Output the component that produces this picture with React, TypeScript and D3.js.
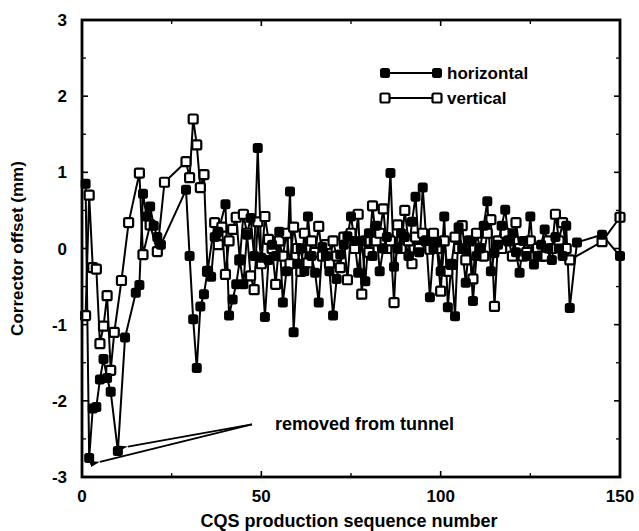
import * as d3 from 'd3'

// corrector offsets
const seqH = [1, 2, 3, 4, 5, 6, 7, 8, 10, 12, 15, 16, 17, 18, 19, 20, 21, 22, 29, 30, 31, 32, 33, 34, 35, 36, 37, 38, 40, 41, 42, 43, 44, 45, 46, 47, 48, 49, 50, 51, 52, 53, 54, 55, 56, 57, 58, 59, 60, 61, 62, 63, 64, 65, 66, 67, 68, 69, 70, 71, 72, 73, 74, 75, 76, 77, 78, 79, 80, 81, 82, 83, 84, 85, 86, 87, 88, 89, 90, 91, 92, 93, 94, 95, 96, 97, 98, 99, 100, 101, 102, 103, 104, 105, 106, 107, 108, 109, 110, 111, 112, 113, 114, 115, 116, 117, 118, 119, 120, 121, 122, 123, 124, 125, 126, 127, 128, 129, 130, 131, 132, 133, 134, 135, 136, 138, 145, 150]
const offsetH = [0.85, -2.75, -2.1, -2.08, -1.72, -1.45, -1.7, -1.88, -2.66, -1.17, -0.58, -0.48, 0.72, 0.42, 0.55, 0.3, 0.15, 0.05, 0.77, -0.1, -0.93, -1.57, -0.76, -0.6, -0.3, -0.37, 0.15, 0.22, 0.58, -0.88, -0.67, -0.47, -0.15, -0.47, 0.18, 0.4, -0.1, 1.32, -0.12, -0.9, -0.15, 0.05, -0.1, 0.22, -0.71, -0.3, 0.75, -1.1, -0.2, 0.0, -0.3, 0.42, -0.1, -0.32, -0.71, 0.02, -0.1, -0.3, -0.88, -0.4, -0.08, 0.05, 0.16, 0.42, 0.1, -0.32, 0.1, -0.43, 0.2, -0.1, 0.3, -0.3, 0.0, 0.15, 0.99, -0.24, 0.0, 0.2, 0.15, -0.1, 0.35, 0.68, -0.05, 0.8, 0.1, -0.64, 0.0, 0.08, -0.3, 0.42, -0.77, -0.2, -0.89, 0.28, 0.0, -0.45, 0.1, -0.69, -0.1, 0.0, 0.3, 0.62, -0.3, -0.06, 0.05, 0.3, 0.51, 0.1, 0.2, -0.05, -0.32, 0.1, -0.1, 0.42, -0.21, -0.1, 0.05, 0.25, 0.0, -0.15, 0.15, 0.0, -0.1, 0.3, -0.78, 0.08, 0.18, -0.1]

const seqV = [1, 2, 3, 4, 5, 6, 7, 8, 9, 11, 13, 16, 17, 19, 21, 23, 29, 30, 31, 32, 33, 34, 35, 37, 38, 39, 40, 41, 42, 43, 44, 45, 46, 47, 48, 49, 50, 51, 52, 53, 54, 55, 56, 57, 58, 59, 60, 61, 62, 63, 64, 65, 66, 67, 68, 69, 70, 71, 72, 73, 74, 75, 76, 77, 78, 79, 80, 81, 82, 83, 84, 85, 86, 87, 88, 89, 90, 91, 92, 93, 94, 95, 96, 97, 98, 99, 100, 101, 102, 103, 104, 105, 106, 107, 108, 109, 110, 111, 112, 113, 114, 115, 116, 117, 118, 119, 120, 121, 122, 123, 124, 125, 126, 127, 128, 129, 130, 131, 132, 133, 134, 135, 136, 145, 150]
const offsetV = [-0.88, 0.7, -0.25, -0.27, -1.25, -1.02, -0.62, -1.6, -1.1, -0.42, 0.34, 0.99, -0.08, 0.31, -0.04, 0.87, 1.14, 0.93, 1.7, 1.36, 0.8, 0.97, -0.3, 0.34, 0.05, 0.28, -0.34, 0.1, 0.25, 0.41, -0.15, 0.45, 0.2, -0.36, -0.54, 0.35, -0.2, 0.42, 0.12, 0.0, -0.47, 0.1, -0.1, 0.2, -0.2, 0.28, 0.0, -0.3, 0.2, -0.19, 0.1, -0.05, 0.29, -0.1, 0.05, -0.2, 0.1, -0.1, -0.25, 0.15, -0.41, 0.2, 0.0, 0.45, -0.6, 0.1, -0.05, 0.56, 0.1, 0.2, 0.52, 0.0, 0.1, -0.71, 0.31, 0.0, 0.5, 0.1, -0.2, 0.15, 0.0, 0.2, 0.1, -0.01, 0.2, 0.0, -0.56, 0.1, -0.3, -0.21, 0.15, 0.0, 0.3, -0.15, 0.1, -0.4, 0.2, 0.0, -0.1, 0.2, 0.38, -0.76, 0.1, 0.0, 0.2, 0.1, -0.1, 0.34, 0.0, -0.1, -0.05, 0.1, -0.1, 0.0, -0.1, -0.1, 0.1, 0.0, 0.45, 0.1, 0.34, 0.0, -0.15, 0.09, 0.41]

const xTicks = [0, 50, 100, 150]
const xMinor = [25, 75, 125]
const yTicks = [-3, -2, -1, 0, 1, 2, 3]
const yMinor = [-2.5, -1.5, -0.5, 0.5, 1.5, 2.5]
const seriesNames = ['horizontal', 'vertical']

// arrow annotation, in data units: [from seq, from offset, to seq, to offset]
const arrows = [
  [47.4, -2.31, 12.8, -2.6],
  [47.4, -2.31, 5.0, -2.8],
]
const noteText = 'removed from tunnel'

const W = 639
const H = 531
const margin = { top: 20, right: 19, bottom: 54, left: 82 }
const font = '"Liberation Sans", Arial, Helvetica, sans-serif'

function Marker({ cx, cy, filled }: { cx: number; cy: number; filled: boolean }) {
  const s = filled ? 10 : 9
  return (
    <rect
      x={cx - s / 2}
      y={cy - s / 2}
      width={s}
      height={s}
      rx={filled ? 2.5 : 1.5}
      fill={filled ? '#000' : '#fff'}
      stroke="#000"
      strokeWidth={filled ? 0 : 2.2}
    />
  )
}

export default function App() {
  const x = d3.scaleLinear().domain([0, 150]).range([margin.left, W - margin.right])
  const y = d3.scaleLinear().domain([-3, 3]).range([H - margin.bottom, margin.top])

  const dataH = seqH.map((n, i) => [n, offsetH[i]] as [number, number])
  const dataV = seqV.map((n, i) => [n, offsetV[i]] as [number, number])

  const line = d3.line<[number, number]>().x(d => x(d[0])).y(d => y(d[1]))

  const x0 = x.range()[0]
  const x1 = x.range()[1]
  const y0 = y.range()[0]
  const y1 = y.range()[1]

  return (
    <svg width={W} height={H} style={{ position: 'absolute', left: 0, top: 0, background: '#fff' }} fontFamily={font}>
      <defs>
        <marker id="arrowHead" viewBox="0 0 10 6" refX="0" refY="3" markerWidth="10" markerHeight="6" orient="auto-start-reverse" markerUnits="userSpaceOnUse">
          <path d="M10,0 L0,3 L10,6 Z" fill="#000" />
        </marker>
      </defs>

      {/* series lines */}
      <path d={line(dataV) ?? ''} fill="none" stroke="#000" strokeWidth={2} strokeLinejoin="round" />
      <path d={line(dataH) ?? ''} fill="none" stroke="#000" strokeWidth={2} strokeLinejoin="round" />

      {dataV.map((d, i) => (
        <Marker key={`v${i}`} cx={x(d[0])} cy={y(d[1])} filled={false} />
      ))}
      {dataH.map((d, i) => (
        <Marker key={`h${i}`} cx={x(d[0])} cy={y(d[1])} filled={true} />
      ))}

      {/* frame */}
      <rect x={x0} y={y1} width={x1 - x0} height={y0 - y1} fill="none" stroke="#000" strokeWidth={2.8} />

      {/* ticks, pointing inward on all four sides */}
      {xTicks.map(t => (
        <g key={`xt${t}`}>
          <line x1={x(t)} x2={x(t)} y1={y0} y2={y0 - 6} stroke="#000" strokeWidth={1.6} />
          <line x1={x(t)} x2={x(t)} y1={y1} y2={y1 + 6} stroke="#000" strokeWidth={1.6} />
          <text x={x(t)} y={y0 + 25} textAnchor="middle" fontSize={17} fontWeight="bold">{t}</text>
        </g>
      ))}
      {xMinor.map(t => (
        <g key={`xm${t}`}>
          <line x1={x(t)} x2={x(t)} y1={y0} y2={y0 - 4} stroke="#000" strokeWidth={1.3} />
          <line x1={x(t)} x2={x(t)} y1={y1} y2={y1 + 4} stroke="#000" strokeWidth={1.3} />
        </g>
      ))}
      {yTicks.map(t => (
        <g key={`yt${t}`}>
          <line x1={x0} x2={x0 + 6} y1={y(t)} y2={y(t)} stroke="#000" strokeWidth={1.6} />
          <line x1={x1} x2={x1 - 6} y1={y(t)} y2={y(t)} stroke="#000" strokeWidth={1.6} />
          <text x={x0 - 15} y={y(t) + 6} textAnchor="end" fontSize={17} fontWeight="bold">{t}</text>
        </g>
      ))}
      {yMinor.map(t => (
        <g key={`ym${t}`}>
          <line x1={x0} x2={x0 + 4} y1={y(t)} y2={y(t)} stroke="#000" strokeWidth={1.3} />
          <line x1={x1} x2={x1 - 4} y1={y(t)} y2={y(t)} stroke="#000" strokeWidth={1.3} />
        </g>
      ))}

      {/* axis titles */}
      <text x={(x0 + x1) / 2 - 2} y={H - 4} textAnchor="middle" fontSize={18} fontWeight="bold">
        CQS production sequence number
      </text>
      <text transform={`translate(23, ${y(0)}) rotate(-90)`} textAnchor="middle" fontSize={17} fontWeight="bold">
        Corrector offset (mm)
      </text>

      {/* legend */}
      {seriesNames.map((name, i) => {
        const ly = 73 + i * 25
        return (
          <g key={name}>
            <line x1={385} x2={437} y1={ly} y2={ly} stroke="#000" strokeWidth={2} />
            <Marker cx={385} cy={ly} filled={i === 0} />
            <Marker cx={437} cy={ly} filled={i === 0} />
            <text x={447} y={ly + 6} fontSize={17} fontWeight="bold">{name}</text>
          </g>
        )
      })}

      {/* annotation */}
      {arrows.map((a, i) => (
        <line
          key={`ar${i}`}
          x1={x(a[0])}
          y1={y(a[1])}
          x2={x(a[2])}
          y2={y(a[3])}
          stroke="#000"
          strokeWidth={1.8}
          markerEnd="url(#arrowHead)"
        />
      ))}
      <text x={275} y={430} fontSize={18} fontWeight="bold">{noteText}</text>
    </svg>
  )
}
